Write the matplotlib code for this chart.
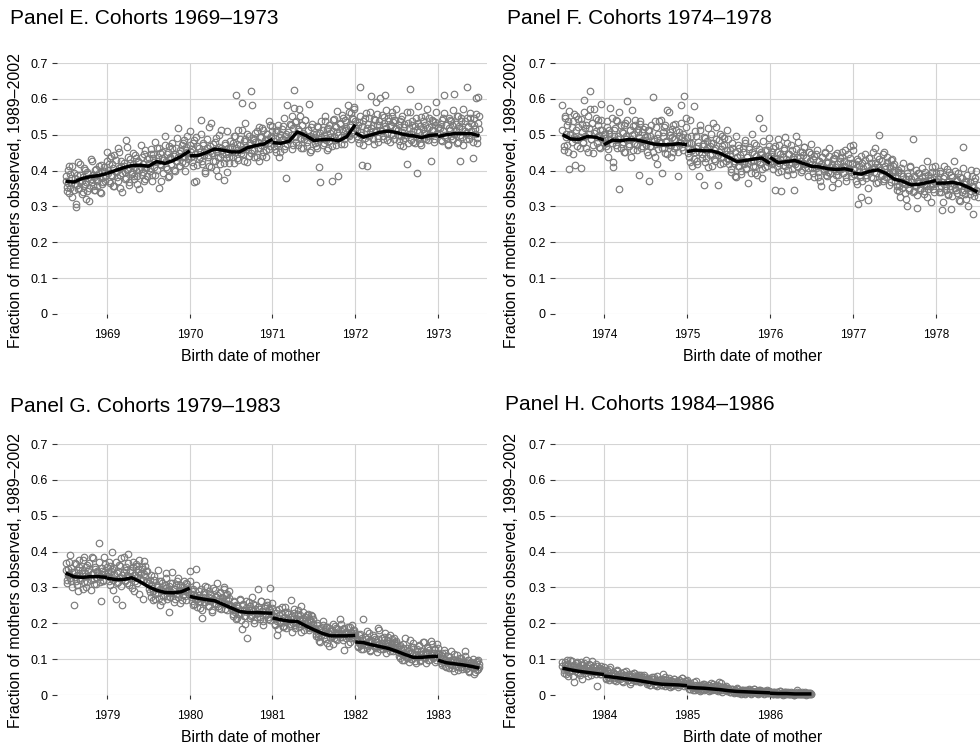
import matplotlib.pyplot as plt
import numpy as np

plt.rcParams['font.family'] = ['Liberation Sans', 'DejaVu Sans']

# scatter values are in thousandths; two interleaved sets of birth dates per panel
E_RANGE = (1968.5, 1973.5)
E_DOTS_A = [
    372, 355, 401, 338, 390, 366, 412, 347, 380, 298, 361, 425, 352, 389, 371, 340, 408, 363, 322, 395,
    378, 351, 433, 369, 387, 345, 402, 376, 358, 414, 383, 337, 396, 368, 409, 384, 452,
    392, 418, 365, 441, 384, 407, 356, 429, 398, 372, 451, 389, 413, 340, 422, 396, 378, 467, 405, 361,
    433, 391, 418, 376, 444, 402, 385, 425, 349, 411, 437, 396, 372, 456, 408, 384,
    421, 398, 445, 372, 434, 411, 389, 462, 427, 351, 448, 415, 436, 393, 471, 428, 405, 452, 384, 439,
    418, 463, 402, 445, 428, 491, 437, 412, 458, 423, 476, 441, 398, 467, 452, 433, 509,
    438, 461, 412, 485, 447, 372, 469, 431, 452, 503, 418, 476, 443, 398, 462, 437, 521, 455, 409, 448,
    474, 426, 491, 452, 384, 467, 439, 512, 458, 421, 476, 445, 395, 463, 438, 482,
    452, 478, 421, 497, 463, 436, 512, 471, 448, 589, 459, 426, 488, 467, 503, 441, 478, 622, 456, 492,
    437, 481, 509, 463, 427, 495, 472, 518, 452, 486, 437, 503, 476, 461, 528, 492, 511,
    468, 491, 452, 512, 478, 437, 503, 486, 524, 461, 497, 378, 473, 508, 489, 526, 552, 471, 625, 535,
    481, 517, 572, 492, 463, 528, 506, 487, 541, 468, 513, 495, 452, 521, 487, 503,
    478, 503, 462, 521, 487, 368, 495, 512, 476, 538, 491, 457, 519, 483, 506, 468, 541, 497, 523, 472,
    508, 386, 531, 494, 517, 548, 475, 512, 536, 498, 563, 521, 489, 547, 512, 576, 538,
    512, 487, 536, 633, 498, 523, 471, 548, 509, 412, 531, 496, 562, 518, 487, 543, 508, 591, 526, 479,
    538, 514, 556, 497, 532, 611, 519, 486, 547, 523, 502, 562, 536, 489, 541, 518,
    498, 526, 471, 543, 507, 485, 531, 498, 562, 476, 518, 628, 502, 539, 481, 524, 497, 392, 533, 508,
    476, 549, 517, 492, 528, 503, 571, 486, 521, 498, 542, 513, 479, 536, 592, 504, 521,
    503, 531, 482, 547, 612, 498, 526, 473, 519, 542, 496, 528, 487, 613, 509, 553, 481, 524, 498, 546,
    517, 472, 538, 506, 633, 521, 489, 547, 511, 436, 528, 503, 557, 478, 605, 517,
]
E_DOTS_B = [
    385, 342, 366, 413, 351, 378, 327, 394, 362, 308, 387, 349, 372, 418, 336, 381, 357, 402, 369, 344,
    391, 315, 376, 428, 358, 383, 347, 405, 371, 392, 339, 416, 363, 381, 398, 372, 426,
    402, 371, 436, 389, 417, 358, 443, 396, 381, 463, 408, 352, 427, 393, 414, 376, 485, 401, 438, 367,
    422, 395, 449, 384, 411, 436, 362, 427, 401, 472, 389, 418, 446, 377, 409, 431,
    436, 408, 459, 387, 447, 423, 481, 401, 439, 462, 418, 372, 451, 429, 497, 411, 446, 381, 468, 432,
    417, 476, 441, 398, 463, 427, 519, 449, 412, 471, 438, 485, 421, 458, 496, 442, 471,
    451, 423, 478, 367, 446, 493, 415, 462, 437, 541, 428, 471, 452, 394, 487, 443, 412, 468, 532, 449,
    426, 481, 401, 459, 437, 498, 418, 463, 447, 375, 472, 436, 509, 452, 421, 467,
    466, 438, 497, 452, 611, 473, 429, 488, 458, 512, 446, 483, 534, 461, 423, 497, 472, 448, 583, 485,
    458, 506, 437, 479, 521, 462, 494, 441, 513, 478, 456, 502, 487, 538, 469, 497, 524,
    482, 459, 507, 471, 528, 493, 452, 516, 489, 547, 468, 503, 582, 486, 531, 498, 461, 519, 574, 494,
    537, 472, 509, 551, 487, 526, 463, 498, 542, 479, 514, 587, 497, 458, 531, 492,
    493, 468, 524, 481, 409, 506, 537, 471, 498, 552, 486, 517, 463, 528, 494, 371, 511, 543, 484, 521,
    567, 498, 532, 474, 556, 509, 487, 541, 519, 582, 496, 528, 561, 507, 543, 571, 519,
    497, 526, 478, 552, 508, 416, 537, 491, 561, 519, 482, 546, 507, 608, 528, 473, 541, 513, 557, 492,
    528, 603, 511, 487, 549, 523, 568, 504, 537, 481, 526, 553, 498, 541, 517, 572,
    512, 483, 538, 497, 551, 468, 521, 491, 417, 534, 503, 562, 486, 527, 509, 478, 546, 513, 581, 492,
    524, 471, 538, 506, 552, 487, 519, 496, 548, 428, 513, 537, 489, 526, 563, 502, 518,
    518, 486, 542, 509, 561, 493, 527, 472, 548, 514, 537, 489, 569, 502, 531, 478, 553, 519, 426, 538,
    495, 572, 511, 487, 547, 523, 498, 561, 532, 479, 548, 516, 603, 492, 534, 551,
]
E_LINE = [
    (1968.5, [370, 368, 378, 383, 386, 392]),
    (1969.0, [392, 400, 408, 414, 415, 412, 425, 420, 428, 440, 455]),
    (1970.0, [441, 442, 450, 460, 457, 452, 452, 464, 470, 474, 488]),
    (1971.0, [478, 476, 482, 508, 498, 484, 486, 487, 483, 495, 528]),
    (1972.0, [505, 493, 500, 507, 510, 506, 500, 497, 492, 498, 500]),
    (1973.0, [495, 500, 503, 503, 503, 497]),
]

F_RANGE = (1973.5, 1978.5)
F_DOTS_A = [
    583, 456, 552, 503, 472, 537, 405, 498, 521, 446, 558, 487, 512, 469, 545, 493, 406, 531, 478, 597,
    519, 462, 553, 501, 622, 487, 534, 448, 572, 509, 476, 541, 498, 463, 587, 512, 478,
    492, 468, 521, 437, 503, 574, 478, 409, 512, 486, 541, 463, 497, 348, 528, 474, 506, 451, 532, 488,
    593, 469, 514, 437, 498, 523, 476, 542, 458, 507, 389, 531, 482, 468, 517, 495,
    484, 452, 513, 371, 497, 468, 604, 482, 437, 521, 492, 459, 538, 476, 394, 508, 463, 527, 481, 445,
    562, 498, 472, 516, 453, 489, 531, 467, 384, 508, 477, 583, 495, 456, 609, 521, 478,
    462, 438, 541, 476, 412, 581, 453, 497, 428, 468, 386, 512, 447, 473, 359, 491, 436, 462, 518, 443,
    478, 412, 534, 457, 426, 488, 361, 452, 503, 438, 469, 421, 492, 447, 514, 431,
    432, 458, 403, 476, 421, 385, 497, 438, 412, 463, 428, 391, 452, 418, 478, 403, 437, 366, 461, 428,
    502, 413, 446, 392, 471, 428, 548, 417, 453, 378, 482, 437, 411, 458, 423, 492, 436,
    441, 418, 463, 345, 428, 452, 397, 471, 432, 343, 416, 458, 493, 424, 387, 447, 419, 472, 403, 438,
    347, 426, 459, 412, 481, 438, 396, 453, 421, 467, 409, 435, 384, 451, 426, 473,
    418, 392, 441, 406, 456, 383, 427, 412, 358, 437, 403, 448, 387, 421, 397, 462, 411, 353, 432, 404,
    443, 389, 418, 365, 436, 407, 452, 392, 428, 411, 371, 446, 402, 468, 385, 421, 456,
    403, 372, 432, 306, 412, 388, 326, 421, 395, 447, 378, 412, 318, 436, 401, 383, 452, 397, 421, 364,
    441, 409, 498, 386, 427, 372, 453, 405, 381, 438, 394, 412, 367, 432, 396, 418,
    372, 346, 401, 358, 327, 393, 364, 421, 338, 377, 302, 386, 352, 412, 367, 489, 343, 381, 358, 296,
    392, 365, 347, 408, 371, 336, 384, 358, 427, 349, 378, 312, 396, 362, 341, 413, 371,
    368, 341, 392, 356, 289, 378, 413, 347, 369, 332, 396, 358, 292, 381, 426, 352, 371, 338, 394, 361,
    314, 378, 467, 346, 369, 321, 387, 353, 336, 401, 358, 279, 372, 341, 398, 327,
]
F_DOTS_B = [
    512, 468, 547, 493, 528, 451, 567, 502, 479, 538, 495, 416, 552, 487, 521, 463, 543, 508, 479, 562,
    496, 527, 452, 518, 573, 489, 534, 471, 506, 548, 493, 527, 466, 512, 541, 488, 503,
    503, 476, 538, 461, 512, 489, 547, 423, 496, 518, 472, 539, 487, 562, 463, 508, 481, 527, 452, 496,
    541, 473, 512, 489, 569, 458, 503, 528, 471, 516, 494, 537, 462, 507, 486, 521,
    471, 497, 443, 512, 468, 526, 452, 489, 537, 474, 418, 503, 481, 542, 463, 496, 521, 448, 482, 568,
    471, 507, 439, 493, 526, 462, 488, 514, 451, 497, 478, 532, 467, 503, 482, 548, 493,
    448, 476, 423, 496, 457, 432, 509, 463, 418, 481, 452, 527, 436, 468, 493, 425, 457, 482, 411, 469,
    503, 446, 478, 431, 462, 521, 443, 485, 419, 461, 497, 438, 472, 427, 458, 487,
    418, 446, 397, 463, 428, 452, 381, 437, 471, 412, 443, 398, 462, 427, 485, 408, 439, 421, 467, 392,
    451, 426, 478, 413, 442, 389, 461, 425, 447, 403, 518, 431, 456, 414, 441, 468, 425,
    426, 452, 403, 468, 431, 412, 487, 421, 446, 398, 439, 462, 414, 431, 476, 402, 447, 425, 458, 391,
    433, 418, 496, 437, 411, 453, 428, 402, 443, 467, 419, 436, 408, 451, 427, 445,
    406, 431, 382, 447, 413, 396, 428, 371, 419, 437, 398, 452, 408, 386, 423, 441, 393, 417, 376, 435,
    411, 398, 448, 387, 426, 403, 439, 392, 412, 458, 381, 421, 407, 436, 395, 418, 471,
    391, 418, 362, 427, 398, 383, 441, 372, 406, 429, 387, 413, 351, 436, 398, 421, 378, 409, 462, 393,
    417, 368, 432, 401, 387, 446, 376, 412, 397, 423, 361, 408, 429, 385, 414, 401,
    381, 356, 397, 342, 372, 408, 351, 386, 363, 321, 392, 368, 347, 411, 376, 339, 384, 358, 402, 331,
    371, 393, 352, 381, 368, 343, 397, 362, 326, 388, 356, 374, 409, 348, 382, 367, 393,
    376, 352, 398, 341, 367, 312, 384, 357, 403, 336, 371, 349, 387, 328, 362, 398, 345, 373, 357, 319,
    382, 341, 408, 362, 336, 371, 351, 302, 367, 342, 384, 356, 329, 378, 346, 361,
]
F_LINE = [
    (1973.5, [500, 488, 487, 495, 493, 485]),
    (1974.0, [472, 485, 483, 487, 485, 480, 474, 472, 472, 475, 472]),
    (1975.0, [453, 457, 455, 455, 448, 437, 425, 428, 432, 435, 420]),
    (1976.0, [437, 422, 425, 428, 420, 412, 410, 405, 403, 405, 400]),
    (1977.0, [393, 390, 398, 402, 392, 376, 370, 360, 362, 367, 372]),
    (1978.0, [365, 365, 367, 362, 352, 340]),
]

G_RANGE = (1978.5, 1983.5)
G_DOTS_A = [
    367, 322, 352, 338, 391, 317, 343, 251, 329, 364, 306, 348, 377, 321, 339, 296, 385, 332, 356, 314,
    347, 368, 292, 338, 381, 323, 351, 309, 342, 423, 328, 263, 346, 318, 384, 337, 356,
    331, 372, 308, 346, 398, 322, 354, 267, 339, 314, 363, 327, 382, 251, 343, 318, 357, 334, 392, 306,
    348, 325, 371, 289, 336, 359, 312, 344, 376, 321, 352, 268, 337, 361, 315, 345,
    312, 287, 336, 298, 264, 321, 283, 306, 348, 271, 296, 317, 262, 289, 308, 339, 276, 294, 231, 313,
    285, 342, 297, 268, 306, 283, 325, 291, 257, 302, 278, 318, 294, 266, 309, 286, 345,
    281, 262, 297, 253, 276, 352, 268, 289, 243, 271, 214, 283, 258, 304, 266, 247, 291, 262, 278, 236,
    298, 257, 272, 311, 249, 268, 285, 241, 263, 302, 254, 279, 238, 266, 291, 251,
    248, 226, 263, 237, 251, 214, 242, 268, 229, 183, 254, 236, 221, 261, 158, 238, 247, 219, 272, 233,
    208, 251, 228, 297, 241, 217, 263, 234, 196, 248, 226, 258, 211, 239, 299, 225, 244,
    221, 198, 236, 167, 214, 241, 203, 227, 189, 218, 246, 204, 232, 212, 193, 264, 219, 201, 229, 186,
    214, 238, 197, 223, 176, 208, 231, 194, 217, 203, 226, 182, 209, 224, 191, 213,
    188, 171, 202, 163, 184, 149, 176, 195, 168, 183, 157, 191, 172, 136, 178, 164, 197, 159, 174, 186,
    152, 169, 213, 178, 161, 183, 125, 172, 158, 189, 166, 147, 177, 196, 162, 181, 168,
    152, 138, 167, 143, 129, 159, 212, 141, 156, 132, 147, 174, 126, 152, 139, 163, 135, 148, 121, 157,
    182, 138, 146, 129, 161, 142, 118, 153, 137, 168, 131, 146, 124, 158, 139, 151,
    127, 108, 139, 116, 97, 131, 112, 158, 104, 122, 93, 117, 134, 101, 146, 112, 89, 124, 107, 138,
    96, 114, 149, 103, 121, 88, 113, 132, 99, 151, 118, 105, 127, 92, 109, 143, 114,
    104, 88, 117, 93, 126, 81, 98, 109, 76, 94, 122, 85, 101, 68, 92, 112, 79, 96, 87, 104,
    72, 91, 124, 83, 76, 97, 65, 88, 79, 101, 58, 84, 93, 71, 99, 78,
]
G_DOTS_B = [
    348, 312, 336, 371, 327, 353, 301, 342, 368, 318, 334, 289, 357, 325, 348, 376, 316, 341, 302, 362,
    331, 352, 322, 384, 339, 309, 357, 328, 346, 372, 315, 337, 354, 321, 343, 366, 331,
    342, 317, 361, 326, 351, 293, 338, 372, 313, 346, 327, 359, 304, 334, 386, 321, 348, 312, 367, 329,
    342, 298, 356, 336, 317, 364, 328, 351, 283, 339, 358, 322, 374, 331, 346, 318,
    296, 321, 274, 308, 289, 331, 267, 302, 284, 317, 251, 294, 312, 277, 298, 326, 268, 291, 305, 274,
    287, 312, 259, 296, 281, 318, 273, 292, 307, 264, 289, 301, 276, 312, 288, 297, 318,
    274, 291, 252, 283, 267, 306, 246, 278, 261, 297, 238, 272, 286, 259, 301, 264, 249, 283, 271, 232,
    268, 292, 254, 279, 263, 244, 287, 258, 273, 296, 241, 267, 282, 255, 271, 248,
    241, 219, 258, 232, 213, 249, 227, 266, 208, 238, 252, 221, 197, 243, 231, 259, 215, 236, 224, 254,
    201, 239, 218, 246, 229, 212, 261, 234, 205, 242, 223, 251, 217, 236, 208, 231, 256,
    218, 196, 229, 207, 184, 223, 201, 246, 193, 214, 232, 188, 209, 226, 197, 218, 176, 211, 239, 194,
    205, 227, 189, 213, 248, 198, 216, 182, 207, 224, 191, 212, 186, 203, 221, 197,
    183, 164, 194, 172, 151, 187, 168, 205, 159, 178, 191, 146, 173, 186, 161, 179, 141, 168, 192, 157,
    174, 183, 163, 198, 171, 152, 186, 169, 177, 143, 164, 189, 173, 158, 181, 167, 174,
    157, 134, 148, 171, 139, 153, 127, 162, 143, 178, 136, 151, 122, 147, 166, 138, 155, 131, 149, 187,
    141, 128, 158, 136, 152, 174, 132, 146, 161, 124, 143, 157, 135, 149, 128, 145,
    121, 136, 104, 128, 113, 143, 98, 119, 131, 106, 125, 152, 101, 117, 133, 94, 113, 128, 108, 139,
    97, 122, 114, 147, 103, 119, 134, 99, 126, 111, 141, 104, 118, 129, 97, 116, 132,
    98, 112, 84, 103, 91, 118, 79, 96, 107, 86, 99, 74, 91, 113, 82, 95, 71, 88, 104, 77,
    93, 86, 109, 73, 89, 97, 68, 85, 93, 76, 89, 64, 81, 95, 72, 86,
]
G_LINE = [
    (1978.5, [340, 330, 328, 330, 330, 328]),
    (1979.0, [326, 322, 322, 327, 316, 302, 292, 286, 285, 288, 298]),
    (1980.0, [275, 270, 266, 263, 253, 243, 233, 230, 230, 229, 228]),
    (1981.0, [215, 210, 206, 205, 193, 182, 172, 165, 165, 165, 166]),
    (1982.0, [148, 146, 140, 135, 130, 122, 113, 105, 105, 107, 108]),
    (1983.0, [97, 90, 87, 84, 80, 75]),
]

H_RANGE = (1983.5, 1986.5)
H_DOTS_A = [
    91, 62, 84, 73, 99, 52, 78, 67, 95, 81, 37, 72, 88, 64, 79, 57, 92, 69, 83, 74,
    61, 98, 76, 68, 85, 55, 71, 79, 63, 87, 24, 66, 74, 58, 81, 69, 77,
    63, 48, 71, 56, 42, 78, 52, 64, 47, 59, 39, 68, 51, 44, 62, 53, 36, 57, 48, 66,
    41, 54, 32, 49, 58, 43, 61, 38, 52, 46, 57, 35, 49, 43, 55, 41,
    43, 31, 48, 37, 27, 44, 35, 51, 29, 39, 24, 42, 33, 46, 28, 58, 36, 25, 41, 31,
    47, 22, 34, 38, 27, 45, 31, 36, 23, 42, 29, 35, 47, 26, 33, 39, 30,
    27, 18, 34, 21, 14, 29, 19, 38, 16, 24, 11, 26, 18, 31, 14, 22, 17, 28, 12, 21,
    33, 15, 19, 24, 13, 27, 17, 36, 14, 20, 9, 23, 16, 19, 12, 18,
    14, 8, 17, 11, 5, 13, 9, 19, 6, 12, 3, 15, 8, 11, 4, 13, 7, 16, 10, 5,
    12, 8, 18, 6, 11, 2, 9, 14, 7, 10, 4, 12, 8, 6, 11, 5, 9,
    7, 4, 9, 5, 2, 8, 3, 11, 5, 6, 1, 7, 4, 9, 3, 5, 2, 8, 4, 6,
    1, 5, 13, 3, 6, 4, 2, 7, 3, 5, 1, 4, 6, 2, 5, 3,
]
H_DOTS_B = [
    82, 69, 93, 58, 76, 87, 64, 97, 71, 53, 85, 67, 78, 92, 61, 74, 83, 46, 72, 88,
    66, 79, 54, 86, 71, 63, 94, 68, 77, 59, 82, 71, 65, 76, 58, 73, 68,
    58, 44, 66, 51, 73, 47, 55, 62, 41, 58, 49, 69, 45, 53, 61, 38, 52, 64, 47, 56,
    43, 59, 51, 36, 54, 48, 62, 42, 51, 57, 39, 48, 55, 44, 50, 46,
    39, 46, 33, 42, 28, 51, 37, 44, 31, 39, 54, 35, 41, 27, 38, 45, 32, 49, 36, 29,
    43, 34, 40, 26, 37, 46, 32, 39, 28, 43, 35, 31, 48, 33, 38, 29, 41,
    24, 31, 17, 26, 21, 35, 15, 23, 29, 18, 25, 13, 27, 22, 32, 16, 24, 19, 28, 14,
    23, 18, 30, 16, 21, 26, 12, 24, 19, 33, 15, 22, 17, 25, 14, 20,
    13, 9, 16, 11, 7, 14, 10, 18, 8, 12, 5, 13, 9, 15, 6, 11, 8, 14, 10, 4,
    12, 7, 16, 9, 11, 6, 13, 8, 10, 5, 12, 7, 9, 14, 6, 10, 8,
    6, 3, 8, 5, 2, 7, 4, 10, 3, 6, 2, 5, 7, 3, 9, 4, 2, 6, 3, 5,
    1, 4, 8, 3, 5, 2, 6, 4, 3, 7, 2, 4, 5, 3, 6, 4,
]
H_LINE = [
    (1983.5, [75, 70, 66, 63, 60, 57]),
    (1984.0, [53, 50, 47, 44, 41, 37, 33, 30, 29, 28, 26]),
    (1985.0, [22, 20, 19, 17, 15, 12, 10, 9, 8, 7, 6]),
    (1986.0, [5, 4, 4, 3, 3, 3]),
]

TITLES = ["Panel E. Cohorts 1969\u20131973", "Panel F. Cohorts 1974\u20131978",
          "Panel G. Cohorts 1979\u20131983", "Panel H. Cohorts 1984\u20131986"]
YEARS = [[1969, 1970, 1971, 1972, 1973], [1974, 1975, 1976, 1977, 1978],
         [1979, 1980, 1981, 1982, 1983], [1984, 1985, 1986]]
YTICKS = [0, 0.1, 0.2, 0.3, 0.4, 0.5, 0.6, 0.7]
YTICK_LABELS = ["0", "0.1", "0.2", "0.3", "0.4", "0.5", "0.6", "0.7"]
YLABEL = "Fraction of mothers observed, 1989\u20132002"
XLABEL = "Birth date of mother"

W, H = 980, 747
fig = plt.figure(figsize=(W / 100, H / 100), dpi=100)

# (left, top, right, bottom) in pixels, x limits, title/label anchors
layout = [
    ((57, 63, 487, 314), (1968.396, 1973.592), (10, 18), (16, 201), (251, 357)),
    ((555, 63, 980, 314), (1973.41, 1978.53), (507, 18), (511, 201), (753, 357)),
    ((57, 444, 487, 695), (1978.396, 1983.592), (10, 407), (16, 581), (251, 738)),
    ((555, 444, 980, 695), (1983.41, 1988.53), (505, 405), (511, 581), (753, 738)),
]
panels = [((E_DOTS_A, E_DOTS_B), E_RANGE, E_LINE), ((F_DOTS_A, F_DOTS_B), F_RANGE, F_LINE),
          ((G_DOTS_A, G_DOTS_B), G_RANGE, G_LINE), ((H_DOTS_A, H_DOTS_B), H_RANGE, H_LINE)]

for i, ((dot_sets, rng, line), (box, xlim, tpos, ypos, xpos)) in enumerate(zip(panels, layout)):
    l, t, r, b = box
    ax = fig.add_axes([l / W, 1 - b / H, (r - l) / W, (b - t) / H])
    for s in ax.spines.values():
        s.set_visible(False)
    ax.set_xlim(*xlim)
    ax.set_ylim(0, 0.7)
    ax.set_xticks(YEARS[i])
    ax.set_xticklabels([str(y) for y in YEARS[i]], fontsize=8.5)
    ax.set_yticks(YTICKS)
    ax.set_yticklabels(YTICK_LABELS, fontsize=9)
    ax.tick_params(axis='x', length=3, width=0.8, color='#333333', pad=8)
    ax.tick_params(axis='y', length=3.6, width=0.8, color='#333333', pad=3)
    ax.grid(True, color='#d4d4d4', lw=0.8)
    ax.set_axisbelow(True)

    for dots in dot_sets:
        y = np.array(dots) / 1000
        x = np.linspace(rng[0], rng[1], len(y))
        ax.plot(x, y, 'o', ms=4.7, mfc='none', mec='#7c7c7c', mew=0.85, clip_on=False, zorder=3)
    for start, vals in line:
        v = np.array(vals) / 1000
        xs = start + np.arange(len(v)) * 0.1
        ax.plot(xs, v, color='black', lw=2.5, solid_capstyle='butt', clip_on=False, zorder=4)

    fig.text(tpos[0] / W, 1 - tpos[1] / H, TITLES[i], fontsize=15, ha='left', va='center')
    fig.text(ypos[0] / W, 1 - ypos[1] / H, YLABEL, fontsize=11.4, rotation=90,
             ha='center', va='center')
    fig.text(xpos[0] / W, 1 - xpos[1] / H, XLABEL, fontsize=11.4, ha='center', va='center')

fig.savefig('out.png', dpi=100)
